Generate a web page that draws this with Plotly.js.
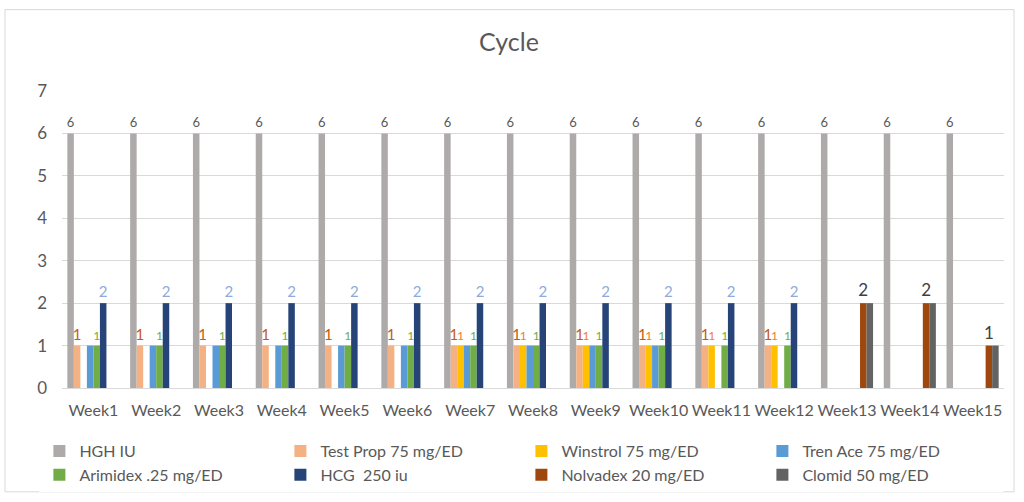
<!DOCTYPE html>
<html>
<head>
<meta charset="utf-8">
<script src="https://cdn.plot.ly/plotly-3.0.1.min.js"></script>
<style>html,body{margin:0;padding:0;background:#fff;}#chart{width:1024px;height:502px;}</style>
</head>
<body>
<div id="chart"></div>
<script>
var weeks = ['Week1','Week2','Week3','Week4','Week5','Week6','Week7','Week8','Week9','Week10','Week11','Week12','Week13','Week14','Week15'];
var hghIU     = [6,6,6,6,6,6,6,6,6,6,6,6,6,6,6];
var testProp  = [1,1,1,1,1,1,1,1,1,1,1,1,null,null,null];
var winstrol  = [null,null,null,null,null,null,1,1,1,1,1,1,null,null,null];
var trenAce   = [1,1,1,1,1,1,1,1,1,1,null,null,null,null,null];
var arimidex  = [1,1,1,1,1,1,1,1,1,1,1,1,null,null,null];
var hcg       = [2,2,2,2,2,2,2,2,2,2,2,2,null,null,null];
var nolvadex  = [null,null,null,null,null,null,null,null,null,null,null,null,2,2,1];
var clomid    = [null,null,null,null,null,null,null,null,null,null,null,null,2,2,1];
var yTicks    = [0,1,2,3,4,5,6,7];

var FONT = 'Lato, "Liberation Sans", sans-serif';
function bar(name, y, color, label, labelColor, labelSize) {
  var t = {type:'bar', name:name, x:weeks, y:y, marker:{color:color},
           cliponaxis:false, constraintext:'none'};
  if (label) {
    t.texttemplate = '%{y}';
    t.textposition = 'outside';
    t.textfont = {family:FONT, size:labelSize, color:labelColor};
  } else {
    t.textposition = 'none';
  }
  return t;
}
var data = [
  bar('HGH IU', hghIU, '#AEAAAA', true, '#595959', 13),
  bar('Test Prop 75 mg/ED', testProp, '#F4B183', true, '#C55A11', 15),
  bar('Winstrol 75 mg/ED', winstrol, '#FFC000', true, '#ED7D31', 12),
  bar('Tren Ace 75 mg/ED', trenAce, '#5B9BD5', false),
  bar('Arimidex .25 mg/ED', arimidex, '#70AD47', true, '#70AD47', 12),
  bar('HCG  250 iu', hcg, '#264478', true, '#8FAADC', 15),
  bar('Nolvadex 20 mg/ED', nolvadex, '#9E480E', true, '#404040', 17),
  bar('Clomid 50 mg/ED', clomid, '#636363', false)
];
var layout = {
  width:1024, height:502,
  margin:{l:62, r:20, t:90.5, b:114, autoexpand:false},
  paper_bgcolor:'#fff', plot_bgcolor:'#fff',
  font:{family:FONT, color:'#595959', size:16},
  title:{text:'Cycle', font:{family:FONT, size:25, color:'#595959'}, x:0.497, xref:'container', y:1-42/502, yref:'container', yanchor:'middle'},
  barmode:'group', bargap:0.17, bargroupgap:0,
  showlegend:true,
  legend:{orientation:'h', x:-0.024, xanchor:'left', y:-0.155, yanchor:'top',
          entrywidth:196, entrywidthmode:'pixels', font:{family:FONT, size:16, color:'#595959'},
          traceorder:'normal', tracegroupgap:0},
  xaxis:{type:'category', showgrid:false, showline:false, zeroline:false, ticks:'', tickangle:0,
         tickfont:{family:FONT, size:16, color:'#595959'}, ticklabelstandoff:11},
  yaxis:{range:[0,7], tickvals:yTicks, showgrid:true, gridcolor:'#D9D9D9', gridwidth:1,
         zeroline:true, zerolinecolor:'#D9D9D9', zerolinewidth:1, showline:false, ticks:'',
         tickfont:{family:FONT, size:17, color:'#595959'}, ticklabelstandoff:14},
  shapes:[{type:'rect', xref:'paper', yref:'paper', x0:(5-62)/942, x1:(1014-62)/942,
           y0:(388-492)/297.5, y1:(388-9)/297.5, line:{color:'#D9D9D9', width:1}, fillcolor:'rgba(0,0,0,0)', layer:'below'}],
  hovermode:false
};
Plotly.newPlot('chart', data, layout, {staticPlot:true, displayModeBar:false});
</script>
</body>
</html>
